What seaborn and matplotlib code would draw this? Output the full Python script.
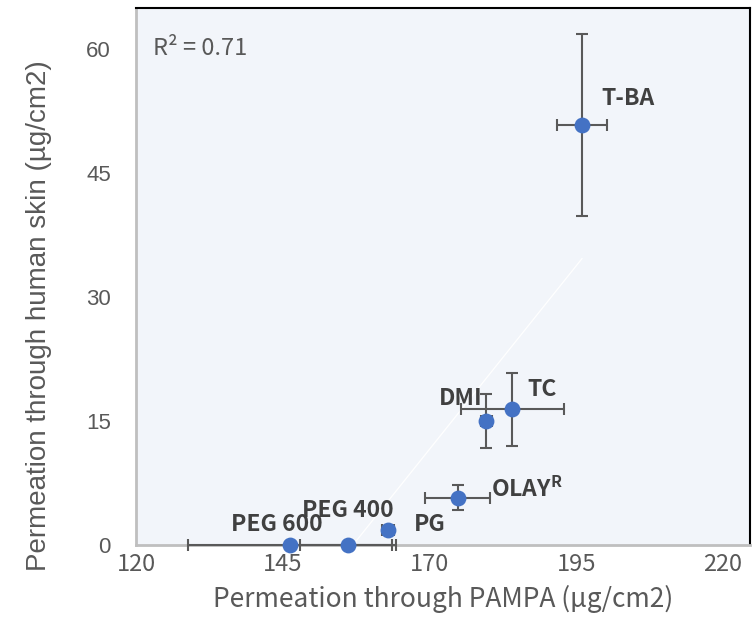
import matplotlib
matplotlib.use("Agg")
import matplotlib.pyplot as plt
import seaborn as sns
import pandas as pd

# Permeation of each vehicle: PAMPA membrane vs. human skin (mean ± SD)
labels = ["T-BA", "TC", "DMI", "OLAY$^{\\mathregular{R}}$", "PG", "PEG 400", "PEG 600"]
pampa = [196.0, 184.1, 179.7, 174.8, 162.9, 156.1, 146.2]
skin = [50.8, 16.4, 15.0, 5.7, 1.8, 0.0, 0.0]
pampa_sd = [4.2, 8.8, 1.0, 5.5, 1.0, 8.2, 17.4]
skin_sd = [11.0, 4.4, 3.3, 1.5, 0.5, 0.0, 0.0]
r2_text = "R² = 0.71"

x_ticks = [120, 145, 170, 195, 220]
y_ticks = [0, 15, 30, 45, 60]

df = pd.DataFrame({"label": labels, "pampa": pampa, "skin": skin,
                   "pampa_sd": pampa_sd, "skin_sd": skin_sd})

sns.set_theme(style="white")
plt.rcParams["font.family"] = ["Noto Sans CJK SC", "DejaVu Sans"]

fig = plt.figure(figsize=(7.53, 6.26), dpi=100)
ax = fig.add_axes([0.1806, 0.1294, 0.8154, 0.8576])
ax.set_facecolor("#F2F5FA")

grey = "#595959"
blue = "#4472C4"

# linear trend line across the data range
sns.regplot(data=df, x="pampa", y="skin", ax=ax, scatter=False, ci=None,
            truncate=True, line_kws={"color": "white", "lw": 0.9, "zorder": 2})

ax.errorbar(df["pampa"], df["skin"], xerr=df["pampa_sd"], yerr=df["skin_sd"],
            fmt="none", ecolor=grey, elinewidth=1.5, capsize=4, capthick=1.5,
            zorder=3, clip_on=False)

sns.scatterplot(data=df, x="pampa", y="skin", ax=ax, color=blue, s=130,
                edgecolor=blue, linewidth=0, zorder=4, clip_on=False)

offsets = {
    "T-BA": (14, 19, "left"),
    "TC": (11, 14, "left"),
    "DMI": (-3, 16, "right"),
    "OLAY$^{\\mathregular{R}}$": (24, 6, "left"),
    "PG": (19, 4, "left"),
    "PEG 400": (0, 25, "center"),
    "PEG 600": (-9, 15, "center"),
}
for lab, xv, yv in zip(labels, pampa, skin):
    dx, dy, ha = offsets[lab]
    ax.annotate(lab, (xv, yv), xytext=(dx, dy), textcoords="offset points",
                ha=ha, va="center", fontsize=16.5, fontweight="bold",
                color="#404040", zorder=5)

ax.text(0.028, 0.925, r2_text, transform=ax.transAxes, fontsize=17,
        color=grey, ha="left", va="center")

ax.set_xlim(120, 224.6)
ax.set_ylim(0, 64.9)
ax.set_xticks(x_ticks)
ax.set_yticks(y_ticks)
ax.tick_params(axis="both", direction="in", length=4, width=1,
               color="#BFBFBF")
ax.tick_params(axis="x", labelsize=17, labelcolor=grey, pad=6)
ax.tick_params(axis="y", labelsize=16, labelcolor=grey, pad=18)
for t in ax.get_yticklabels():
    t.set_family("Liberation Sans")

ax.set_xlabel("Permeation through PAMPA (µg/cm2)", fontsize=19, color=grey,
              labelpad=6)
ax.set_ylabel("Permeation through human skin (µg/cm2)", fontsize=20,
              color=grey, family="Liberation Sans")
ax.yaxis.set_label_coords(-0.137, 0.428)

for side in ["left", "bottom"]:
    ax.spines[side].set_color("#BFBFBF")
    ax.spines[side].set_linewidth(2)
for side in ["top", "right"]:
    ax.spines[side].set_color("black")
    ax.spines[side].set_linewidth(1.5)

fig.savefig("out.png", dpi=100)
